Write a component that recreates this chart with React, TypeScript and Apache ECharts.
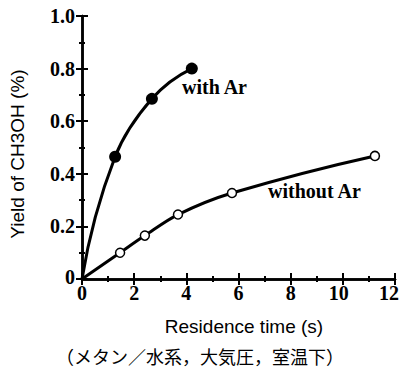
import React, { useEffect, useRef } from "react";
import * as echarts from "echarts";

const withArX = [1.27, 2.68, 4.21];
const withArY = [0.465, 0.685, 0.8];
const withoutArX = [1.46, 2.41, 3.68, 5.75, 11.23];
const withoutArY = [0.1, 0.165, 0.245, 0.327, 0.468];
const xTicks = [0, 2, 4, 6, 8, 10, 12];
const yTicks = [0, 0.2, 0.4, 0.6, 0.8, 1.0];
const yTickLabels = ["0", "0.2", "0.4", "0.6", "0.8", "1.0"];

type Pt = [number, number];

function splinePath(pts: Pt[]): string {
  const n = pts.length;
  if (n < 2) return "";
  const unit = (a: Pt, b: Pt): Pt => {
    const dx = b[0] - a[0];
    const dy = b[1] - a[1];
    const l = Math.hypot(dx, dy) || 1;
    return [dx / l, dy / l];
  };
  const dirs: Pt[] = new Array(n);
  for (let i = 1; i < n - 1; i++) dirs[i] = unit(pts[i - 1], pts[i + 1]);
  if (n === 2) {
    dirs[0] = unit(pts[0], pts[1]);
    dirs[1] = dirs[0];
  } else {
    const u0 = unit(pts[0], pts[1]);
    const d0: Pt = [2 * u0[0] - dirs[1][0], 2 * u0[1] - dirs[1][1]];
    dirs[0] = unit([0, 0], d0);
    const un = unit(pts[n - 2], pts[n - 1]);
    const dn: Pt = [2 * un[0] - dirs[n - 2][0], 2 * un[1] - dirs[n - 2][1]];
    dirs[n - 1] = unit([0, 0], dn);
  }
  let d = `M${pts[0][0]},${pts[0][1]}`;
  for (let i = 0; i < n - 1; i++) {
    const a = pts[i];
    const b = pts[i + 1];
    const len = Math.hypot(b[0] - a[0], b[1] - a[1]) / 3;
    const c1: Pt = [a[0] + dirs[i][0] * len, a[1] + dirs[i][1] * len];
    const c2: Pt = [b[0] - dirs[i + 1][0] * len, b[1] - dirs[i + 1][1] * len];
    d += ` C${c1[0]},${c1[1]} ${c2[0]},${c2[1]} ${b[0]},${b[1]}`;
  }
  return d;
}

function curveSeries(xs: number[], ys: number[]) {
  const data = [[0, 0], ...xs.map((x, i) => [x, ys[i]])];
  return {
    type: "custom",
    coordinateSystem: "cartesian2d",
    data,
    encode: { x: 0, y: 1 },
    z: 2,
    renderItem: (params: any, api: any) => {
      if (params.dataIndex !== 0) return null;
      const pts = data.map((p) => api.coord(p) as Pt);
      return {
        type: "path",
        shape: { pathData: splinePath(pts) },
        style: { stroke: "#000", lineWidth: 3, fill: "none" },
      };
    },
  };
}

const tickFont = {
  fontFamily: "Liberation Serif",
  fontWeight: "bold",
  fontSize: 20,
  fill: "#000",
};

export default function App() {
  const ref = useRef<HTMLDivElement>(null);
  useEffect(() => {
    if (!ref.current) return;
    const chart = echarts.init(ref.current, null, { renderer: "svg" });
    const axisCommon = {
      type: "value" as const,
      axisLine: { show: true, lineStyle: { color: "#000", width: 2.5 } },
      axisTick: { show: true, inside: true, length: 6, lineStyle: { color: "#000", width: 2 } },
      minorTick: { show: true, splitNumber: 2, length: 3, lineStyle: { color: "#000", width: 2 } },
      splitLine: { show: false },
      axisLabel: { show: false },
    };
    const staticGraphics = [
      {
        type: "text",
        left: 182,
        top: 77,
        style: { text: "with Ar", fontFamily: "Liberation Serif", fontWeight: "bold", fontSize: 20, fill: "#000" },
      },
      {
        type: "text",
        left: 268,
        top: 181,
        style: { text: "without Ar", fontFamily: "Liberation Serif", fontWeight: "bold", fontSize: 20, fill: "#000" },
      },
      {
        type: "text",
        x: 244,
        y: 326,
        style: {
          text: "Residence time (s)",
          fontFamily: "Liberation Sans",
          fontWeight: "normal",
          fontSize: 19,
          fill: "#000",
          align: "center",
          verticalAlign: "middle",
        },
      },
      {
        type: "text",
        x: 17,
        y: 154,
        rotation: Math.PI / 2,
        style: {
          text: "Yield of CH3OH (%)",
          fontFamily: "Liberation Sans",
          fontWeight: "normal",
          fontSize: 19,
          fill: "#000",
          align: "center",
          verticalAlign: "middle",
        },
      },
      {
        type: "text",
        x: 200,
        y: 356,
        style: {
          text: "（メタン／水系，大気圧，室温下）",
          fontFamily: "Noto Sans CJK JP",
          fontWeight: "normal",
          fontSize: 18,
          fill: "#000",
          align: "center",
          verticalAlign: "middle",
        },
      },
    ];
    chart.setOption({
      animation: false,
      grid: { left: 82, top: 16, right: 6, bottom: 90 },
      xAxis: [
        { ...axisCommon, min: 0, max: 12, interval: 2, position: "bottom" },
        { ...axisCommon, min: 0, max: 12, interval: 2, position: "top" },
      ],
      yAxis: [
        { ...axisCommon, min: 0, max: 1, interval: 0.2, position: "left" },
        { ...axisCommon, min: 0, max: 1, interval: 0.2, position: "right" },
      ],
      series: [
        curveSeries(withArX, withArY),
        curveSeries(withoutArX, withoutArY),
        {
          type: "scatter",
          data: withArX.map((x, i) => [x, withArY[i]]),
          symbol: "circle",
          symbolSize: 12,
          itemStyle: { color: "#000", opacity: 1 },
          z: 3,
        },
        {
          type: "scatter",
          data: withoutArX.map((x, i) => [x, withoutArY[i]]),
          symbol: "circle",
          symbolSize: 9,
          itemStyle: { color: "#fff", borderColor: "#000", borderWidth: 1.5, opacity: 1 },
          z: 3,
        },
      ],
      graphic: staticGraphics,
    });
    const finder = { xAxisIndex: 0, yAxisIndex: 0 };
    const xLabels = xTicks.map((v) => {
      const p = chart.convertToPixel(finder, [v, 0]) as number[];
      const dx = v >= 12 ? -6 : v >= 10 ? -4 : 0;
      return {
        type: "text",
        x: p[0] + dx,
        y: p[1] + 14,
        style: { ...tickFont, text: String(v), align: "center", verticalAlign: "middle" },
      };
    });
    const yLabels = yTicks.map((v, i) => {
      const p = chart.convertToPixel(finder, [0, v]) as number[];
      return {
        type: "text",
        x: p[0] - 7,
        y: p[1] + (v === 0 ? -2 : 0),
        style: { ...tickFont, text: yTickLabels[i], align: "right", verticalAlign: "middle" },
      };
    });
    chart.setOption({ graphic: [...staticGraphics, ...xLabels, ...yLabels] }, { replaceMerge: ["graphic"] });
    return () => chart.dispose();
  }, []);
  return (
    <div
      ref={ref}
      style={{ position: "fixed", left: 0, top: 0, width: 401, height: 369, background: "#fff" }}
    />
  );
}
